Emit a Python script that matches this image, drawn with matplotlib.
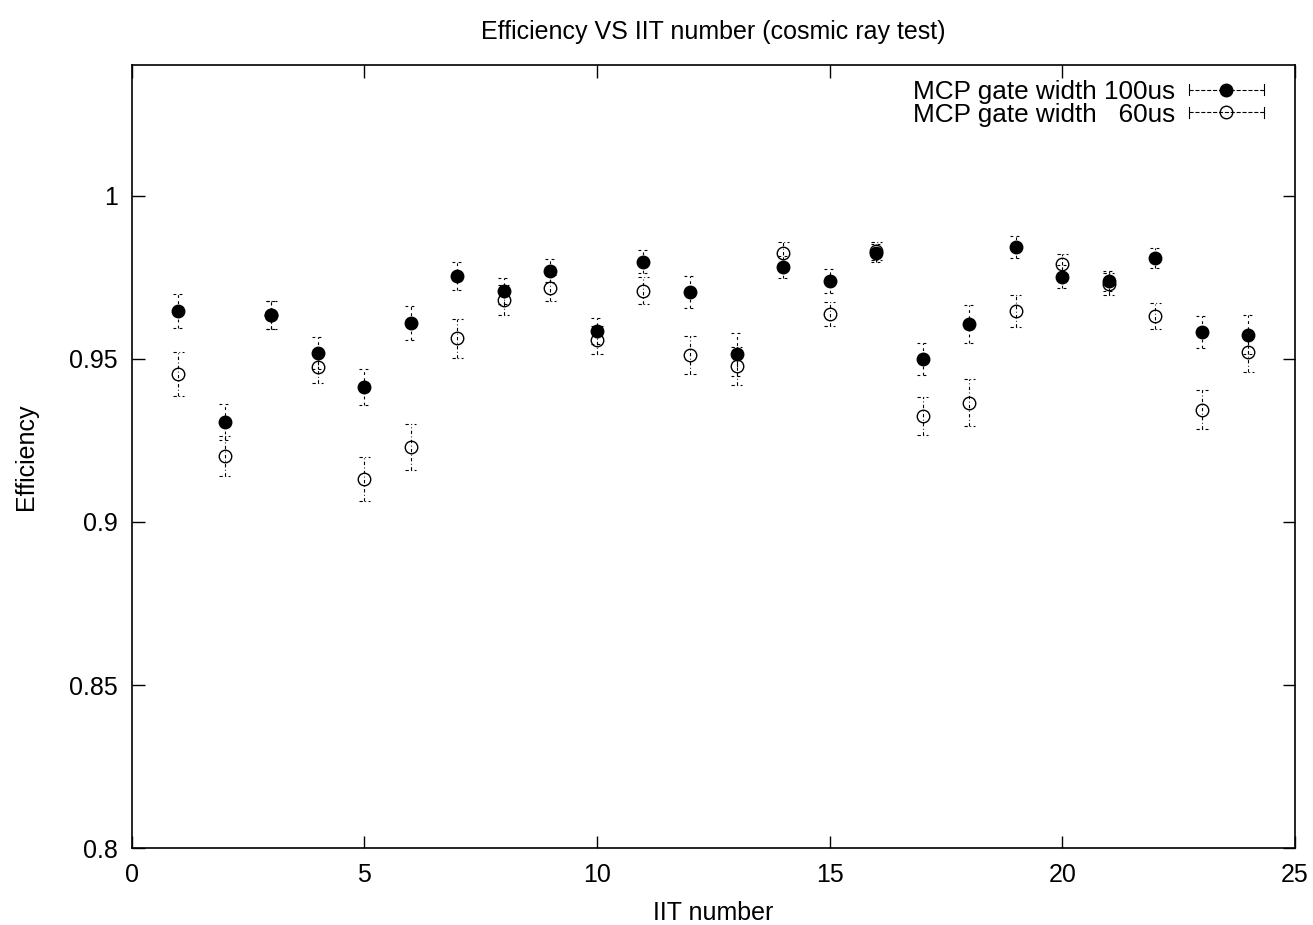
import matplotlib
matplotlib.use("Agg")
import matplotlib.pyplot as plt
from matplotlib.lines import Line2D
from matplotlib.legend_handler import HandlerBase

# IIT index and measured efficiencies with their uncertainties
iit = list(range(1, 25))
eff_100us = [0.9647, 0.9307, 0.9635, 0.9518, 0.9414, 0.9610, 0.9755, 0.9709,
             0.9770, 0.9586, 0.9798, 0.9706, 0.9515, 0.9782, 0.9739, 0.9825,
             0.9500, 0.9607, 0.9844, 0.9752, 0.9739, 0.9810, 0.9583, 0.9574]
err_100us = [0.0053, 0.0055, 0.0043, 0.0050, 0.0055, 0.0053, 0.0043, 0.0040,
             0.0035, 0.0040, 0.0035, 0.0049, 0.0066, 0.0035, 0.0037, 0.0028,
             0.0050, 0.0058, 0.0033, 0.0035, 0.0030, 0.0030, 0.0050, 0.0060]
eff_60us = [0.9454, 0.9202, 0.9635, 0.9475, 0.9132, 0.9230, 0.9564, 0.9681,
            0.9718, 0.9558, 0.9709, 0.9512, 0.9479, 0.9825, 0.9638, 0.9831,
            0.9325, 0.9365, 0.9647, 0.9791, 0.9730, 0.9632, 0.9344, 0.9521]
err_60us = [0.0067, 0.0062, 0.0043, 0.0050, 0.0068, 0.0070, 0.0060, 0.0045,
            0.0040, 0.0044, 0.0042, 0.0058, 0.0058, 0.0033, 0.0038, 0.0028,
            0.0057, 0.0072, 0.0050, 0.0031, 0.0035, 0.0040, 0.0060, 0.0060]

labels = ["MCP gate width 100us", "MCP gate width   60us"]
xticks = [0, 5, 10, 15, 20, 25]
yticks = [0.8, 0.85, 0.9, 0.95, 1.0]
ytick_labels = ["0.8", "0.85", "0.9", "0.95", "1"]

plt.rcParams["font.family"] = ["Liberation Sans", "DejaVu Sans"]
FS = 18

DASH_100 = (0, (2.5, 3.0))
DASH_60 = (0, (3.0, 2.2, 0.8, 2.2))
CAP_HALF = 0.12
LW = 0.8
MS = 9

fig = plt.figure(figsize=(13.13, 9.25), dpi=100)
ax = fig.add_axes([0.1002, 0.0832, 0.8861, 0.846])


def draw_series(x, y, e, ls, mfc, zorder):
    lo = [v - d for v, d in zip(y, e)]
    hi = [v + d for v, d in zip(y, e)]
    ax.vlines(x, lo, hi, colors="k", linestyles=[ls], linewidth=LW, zorder=zorder)
    xl = [v - CAP_HALF for v in x]
    xr = [v + CAP_HALF for v in x]
    ax.hlines(lo, xl, xr, colors="k", linestyles=[ls], linewidth=LW, zorder=zorder)
    ax.hlines(hi, xl, xr, colors="k", linestyles=[ls], linewidth=LW, zorder=zorder)
    ax.plot(x, y, ls="none", marker="o", markersize=MS, mfc=mfc, mec="k",
            mew=1.0, zorder=zorder + 1)


draw_series(iit, eff_100us, err_100us, DASH_100, "k", 2)
draw_series(iit, eff_60us, err_60us, DASH_60, "none", 4)


class HorizontalErrorKey(HandlerBase):
    """Key sample: dashed horizontal bar with end ticks and a centred marker."""

    def create_artists(self, legend, orig_handle, xdescent, ydescent,
                       width, height, fontsize, trans):
        y = height / 2.0 - ydescent
        x0, x1 = -xdescent, width - xdescent
        ls = orig_handle.get_linestyle()
        bar = Line2D([x0, x1], [y, y], color="k", lw=LW, linestyle=ls)
        h = 0.22 * fontsize
        left = Line2D([x0, x0], [y - h, y + h], color="k", lw=LW)
        right = Line2D([x1, x1], [y - h, y + h], color="k", lw=LW)
        mk = Line2D([(x0 + x1) / 2.0], [y], ls="none", marker="o",
                    markersize=orig_handle.get_markersize(),
                    mfc=orig_handle.get_markerfacecolor(), mec="k", mew=1.0)
        arts = [bar, left, right, mk]
        for a in arts:
            a.set_transform(trans)
        return arts


h100 = Line2D([], [], linestyle=DASH_100, marker="o", markersize=MS, mfc="k")
h60 = Line2D([], [], linestyle=DASH_60, marker="o", markersize=MS, mfc="none")
ax.legend([h100, h60], labels, loc="upper right", frameon=False,
          markerfirst=False, fontsize=18.8, handlelength=2.85, handletextpad=0.55,
          labelspacing=-0.05, borderaxespad=0.0, bbox_to_anchor=(0.982, 0.995),
          handler_map={Line2D: HorizontalErrorKey()})

ax.set_xlim(0, 25)
ax.set_ylim(0.8, 1.04)
ax.set_xticks(xticks)
ax.set_yticks(yticks)
ax.set_yticklabels(ytick_labels)
ax.tick_params(direction="in", length=9, width=1.0, labelsize=FS,
               top=True, right=True)
ax.tick_params(axis="x", pad=11)
ax.tick_params(axis="y", pad=10)
for s in ax.spines.values():
    s.set_linewidth(1.2)

ax.set_title("Efficiency VS IIT number (cosmic ray test)", fontsize=FS, pad=19)
ax.set_xlabel("IIT number", fontsize=FS, labelpad=9.5)
ax.set_ylabel("Efficiency", fontsize=FS, labelpad=22)

fig.savefig("out.png", dpi=100)
